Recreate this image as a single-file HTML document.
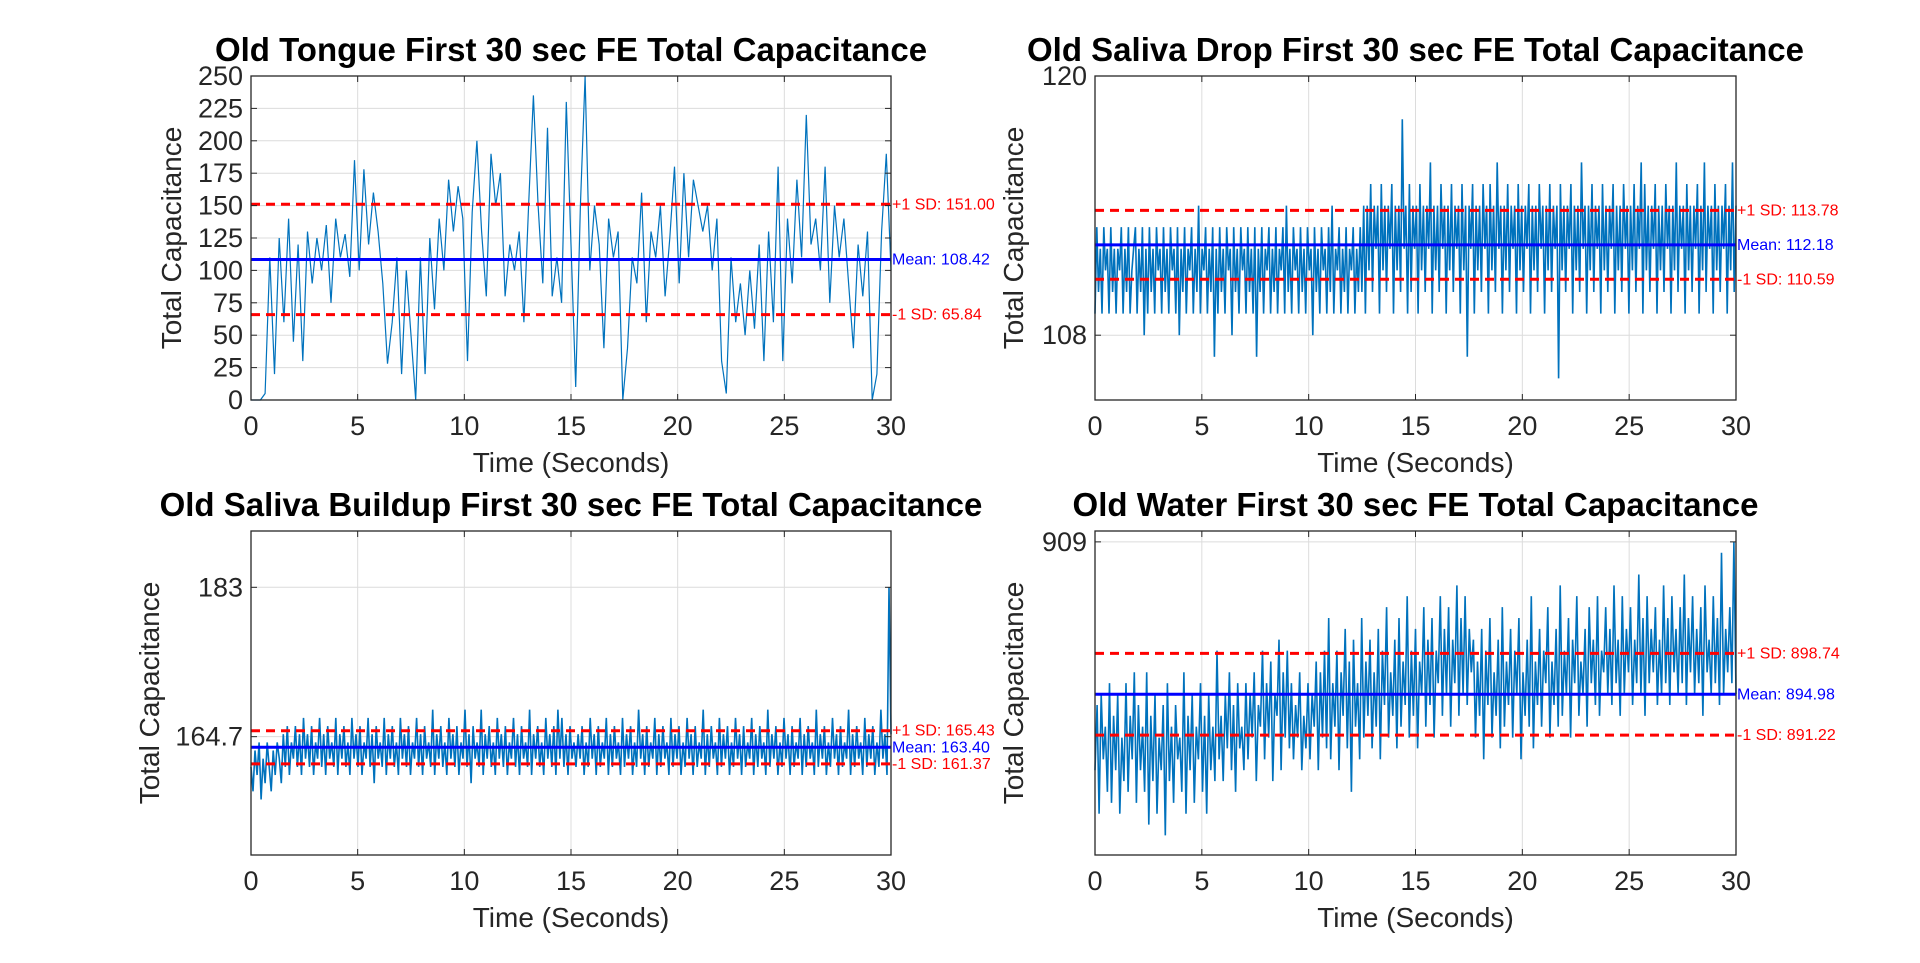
<!DOCTYPE html>
<html><head><meta charset="utf-8">
<style>
html,body{margin:0;padding:0;background:#fff;}
body{width:1920px;height:963px;overflow:hidden;}
svg{display:block;}
text{font-family:"Liberation Sans Narrow","Liberation Sans",sans-serif;}
.title{font-family:"Liberation Sans Narrow","Liberation Sans",sans-serif;font-weight:bold;font-size:33px;}
</style></head>
<body>
<svg id="fig" width="1920" height="963" viewBox="0 0 1920 963" xmlns="http://www.w3.org/2000/svg"></svg>
<script>
// ---- data ----
const tongueValues=[0,0,0,5,110,20,125,60,140,45,120,30,130,90,125,100,135,75,140,110,128,95,185,100,178,120,160,130,90,28,60,110,20,100,50,0,110,20,125,70,140,100,170,130,165,140,30,145,200,130,80,190,150,175,80,120,100,130,60,150,235,150,90,210,80,110,75,230,120,10,150,250,100,150,120,40,140,110,130,0,40,110,90,160,60,130,110,150,80,125,180,90,175,110,170,150,130,150,100,140,30,5,110,60,90,50,100,55,120,30,130,60,180,30,140,90,170,110,220,120,140,100,180,75,150,110,140,90,40,120,80,130,0,20,130,190,100];
const dropValues=[109,113,110,112,109,113,111,112,109,113,110,112,109,112,111,113,109,112,110,113,109,111,112,113,109,112,110,113,108,112,109,113,110,112,109,113,111,112,109,113,110,112,109,113,111,112,109,113,108,112,110,113,109,112,111,113,109,112,110,114,109,112,111,113,109,112,110,113,107,112,109,113,110,112,109,113,111,112,108,113,110,112,109,113,111,112,109,113,110,112,109,113,107,112,110,113,109,112,111,113,109,112,110,113,109,112,111,113,109,114,110,112,109,113,111,112,109,113,110,112,109,113,111,112,108,113,110,112,109,113,111,112,109,113,110,114,109,112,111,113,109,112,110,113,109,112,111,113,109,112,110,113,110,114,109,114,111,115,110,114,112,114,109,115,111,114,110,114,112,115,109,114,111,114,110,118,112,114,109,115,110,114,112,114,109,115,111,114,110,114,112,116,109,114,111,114,110,115,112,114,109,114,111,115,110,114,112,114,109,115,111,114,107,114,112,115,109,114,111,114,110,115,112,114,109,115,111,114,110,116,112,114,109,114,111,115,110,114,112,114,109,115,111,114,110,114,112,115,109,114,111,114,110,115,112,114,109,114,111,115,110,114,112,114,106,115,111,114,110,114,112,115,109,114,111,114,110,116,112,114,109,114,111,115,110,114,112,114,109,115,111,114,110,114,112,115,109,114,111,114,110,115,112,114,109,114,111,115,110,114,112,116,109,115,111,114,110,114,112,115,109,114,111,114,110,115,112,114,109,114,111,116,110,114,112,114,109,115,111,114,110,114,112,115,109,114,111,116,110,114,112,114,109,115,111,114,110,114,112,115,109,114,111,116,110,114];
const buildupValues=[161,158,163,160,164,157,162,159,164,161,158,163,160,164,162,159,165,161,166,160,164,162,166,161,165,160,167,162,165,161,166,160,164,162,167,161,165,160,166,162,164,161,167,160,165,162,166,161,164,160,167,162,165,161,166,160,164,162,167,161,165,159,166,162,164,161,167,160,165,162,166,161,164,160,167,162,165,161,166,160,164,162,167,161,165,160,166,162,164,161,168,160,165,162,166,161,164,160,167,162,165,161,166,160,164,162,168,161,165,159,166,162,164,161,168,160,165,162,166,161,164,160,167,162,165,161,166,160,164,162,167,161,165,160,166,162,164,161,168,160,165,162,166,161,164,160,167,162,165,161,166,160,168,162,167,161,165,160,166,162,164,161,165,162,166,160,164,161,167,162,165,160,166,161,164,162,167,160,165,161,166,162,164,160,167,161,165,162,166,160,164,161,168,162,165,160,166,161,164,162,167,160,165,161,166,162,164,160,167,161,165,162,166,160,164,161,167,162,165,160,166,161,164,162,168,160,165,161,166,162,164,160,167,161,165,162,166,160,164,161,167,162,165,160,166,161,164,162,167,160,165,161,166,162,164,160,168,161,165,162,166,160,164,161,167,162,165,160,166,161,164,162,167,160,165,161,166,162,164,160,168,161,165,162,166,160,164,161,167,162,165,160,166,161,164,162,168,160,165,161,166,162,164,160,167,161,165,162,166,160,164,161,168,162,165,160,183,165];
const waterValues=[888,894,884,895,889,892,886,896,885,893,888,895,884,891,887,896,886,893,889,897,885,894,888,892,886,897,883,893,887,895,884,891,888,894,882,896,887,892,885,894,889,891,886,897,884,893,888,895,885,892,889,896,886,893,884,895,888,892,887,899,889,893,887,895,890,897,888,894,886,896,890,892,888,896,889,895,891,897,887,894,892,899,889,896,891,898,887,895,893,900,888,897,891,899,890,896,889,894,891,897,888,893,890,896,889,895,892,898,888,897,891,899,890,902,889,896,892,899,888,897,893,901,890,898,886,900,892,896,889,902,891,898,893,900,890,897,892,901,889,899,894,903,891,897,893,900,890,902,892,898,894,904,891,899,893,901,890,898,895,903,892,900,894,902,891,899,896,904,893,901,895,903,892,900,896,905,893,902,895,904,894,901,897,900,891,898,893,901,889,899,894,902,891,897,893,900,890,903,892,898,894,901,891,899,895,902,889,897,893,900,892,904,890,898,894,901,892,899,896,903,891,898,894,901,892,905,893,899,895,902,891,900,896,904,893,898,895,901,892,903,896,900,894,904,893,899,897,903,895,901,894,905,896,900,893,904,895,901,897,903,894,900,896,906,895,902,893,904,896,901,897,903,894,900,895,905,896,902,894,904,897,901,895,903,896,906,894,902,897,904,895,901,896,903,893,905,897,900,895,904,896,902,894,908,895,901,897,903,896,909,895];
const tongueStats=[151.00,108.42,65.84];
const dropStats=[113.78,112.18,110.59];
const buildupStats=[165.43,163.40,161.37];
const waterStats=[898.74,894.98,891.22];
const tongueTicks=[0,25,50,75,100,125,150,175,200,225,250];
const dropTicks=[108,120];
const buildupTicks=[164.7,183];
const waterTicks=[909];
const xTicks=[0,5,10,15,20,25,30];
const titles=["Old Tongue First 30 sec FE Total Capacitance","Old Saliva Drop First 30 sec FE Total Capacitance","Old Saliva Buildup First 30 sec FE Total Capacitance","Old Water First 30 sec FE Total Capacitance"];

const NS="http://www.w3.org/2000/svg";
const svg=document.getElementById('fig');
function mk(tag,attrs,parent){const e=document.createElementNS(NS,tag);for(const k in attrs)e.setAttribute(k,attrs[k]);(parent||svg).appendChild(e);return e;}

const panels=[
 {key:'tongue',x0:251,x1:891,y0:76,y1:400,ymin:0,ymax:250,vals:tongueValues,stats:tongueStats,ticks:tongueTicks,title:titles[0],sw:1.2},
 {key:'drop',x0:1095,x1:1736,y0:76,y1:400,ymin:105,ymax:120,vals:dropValues,stats:dropStats,ticks:dropTicks,title:titles[1],sw:1.6},
 {key:'buildup',x0:251,x1:891,y0:531,y1:855,ymin:150.2,ymax:189.9,vals:buildupValues,stats:buildupStats,ticks:buildupTicks,title:titles[2],sw:1.6},
 {key:'water',x0:1095,x1:1736,y0:531,y1:855,ymin:880.2,ymax:910,vals:waterValues,stats:waterStats,ticks:waterTicks,title:titles[3],sw:1.6}
];

panels.forEach(p=>{
  const g=mk('g',{});
  
  
  const xs=t=>p.x0+(t/30)*(p.x1-p.x0);
  const ys=v=>p.y1-(v-p.ymin)/(p.ymax-p.ymin)*(p.y1-p.y0);
  mk('rect',{x:p.x0,y:p.y0,width:p.x1-p.x0,height:p.y1-p.y0,fill:'#fff'},g);
  xTicks.forEach(t=>{
    const l=mk('line',{x1:xs(t),x2:xs(t),y1:p.y0,y2:p.y1,stroke:'#dcdcdc','stroke-width':1},g);
    
    
  });
  p.ticks.forEach(v=>{
    const l=mk('line',{x1:p.x0,x2:p.x1,y1:ys(v),y2:ys(v),stroke:'#dcdcdc','stroke-width':1},g);
    
    
  });
  const n=p.vals.length;
  const pts=p.vals.map((v,i)=>xs(i/(n-1)*30).toFixed(1)+','+ys(v).toFixed(1)).join(' ');
  const pl=mk('polyline',{points:pts,fill:'none',stroke:'#0072BD','stroke-width':p.sw},g);
  
  
  const labels=['+1 SD: ','Mean: ','-1 SD: '];
  p.stats.forEach((s,i)=>{
    const isMean=i===1;
    const l=mk('line',{x1:p.x0,x2:p.x1,y1:ys(s),y2:ys(s),stroke:isMean?'#0000ff':'#ff0000','stroke-width':3,'stroke-dasharray':isMean?'none':'9,6'},g);
    
    
    const t=mk('text',{x:p.x1+1,y:ys(s)+5,'font-size':16,fill:isMean?'#0000ff':'#ff0000'},g);
    t.textContent=labels[i]+s.toFixed(2);
    
    
  });
  mk('rect',{x:p.x0,y:p.y0,width:p.x1-p.x0,height:p.y1-p.y0,fill:'none',stroke:'#262626','stroke-width':1.3},g);
  xTicks.forEach(t=>{
    mk('line',{x1:xs(t),x2:xs(t),y1:p.y1,y2:p.y1-6,stroke:'#262626'},g);
    mk('line',{x1:xs(t),x2:xs(t),y1:p.y0,y2:p.y0+6,stroke:'#262626'},g);
    const tx=mk('text',{x:xs(t),y:p.y1+35,'font-size':27,'text-anchor':'middle',fill:'#262626'},g);
    tx.textContent=String(t);
    
    
  });
  p.ticks.forEach(v=>{
    mk('line',{x1:p.x0,x2:p.x0+6,y1:ys(v),y2:ys(v),stroke:'#262626'},g);
    mk('line',{x1:p.x1,x2:p.x1-6,y1:ys(v),y2:ys(v),stroke:'#262626'},g);
    const tx=mk('text',{x:p.x0-8,y:ys(v)+9,'font-size':27,'text-anchor':'end',fill:'#262626'},g);
    tx.textContent=String(v);
    
    
  });
  const xl=mk('text',{x:(p.x0+p.x1)/2,y:p.y1+72,'font-size':28,'text-anchor':'middle',fill:'#262626'},g);
  xl.textContent='Time (Seconds)';
  
  
  const yx=p.x0-(p.key==='tongue'?70:(p.key==='buildup'?92:72));
  const yl=mk('text',{x:yx,y:(p.y0+p.y1)/2,'font-size':28,'text-anchor':'middle',fill:'#262626',transform:'rotate(-90 '+yx+' '+((p.y0+p.y1)/2)+')',style:'font-family:"Liberation Sans",sans-serif'},g);
  yl.textContent='Total Capacitance';
  
  
  const tt=mk('text',{x:(p.x0+p.x1)/2,y:p.y0-15,'text-anchor':'middle',fill:'#000',class:'title'},g);
  tt.textContent=p.title;
  
  
});
</script>
</body></html>
